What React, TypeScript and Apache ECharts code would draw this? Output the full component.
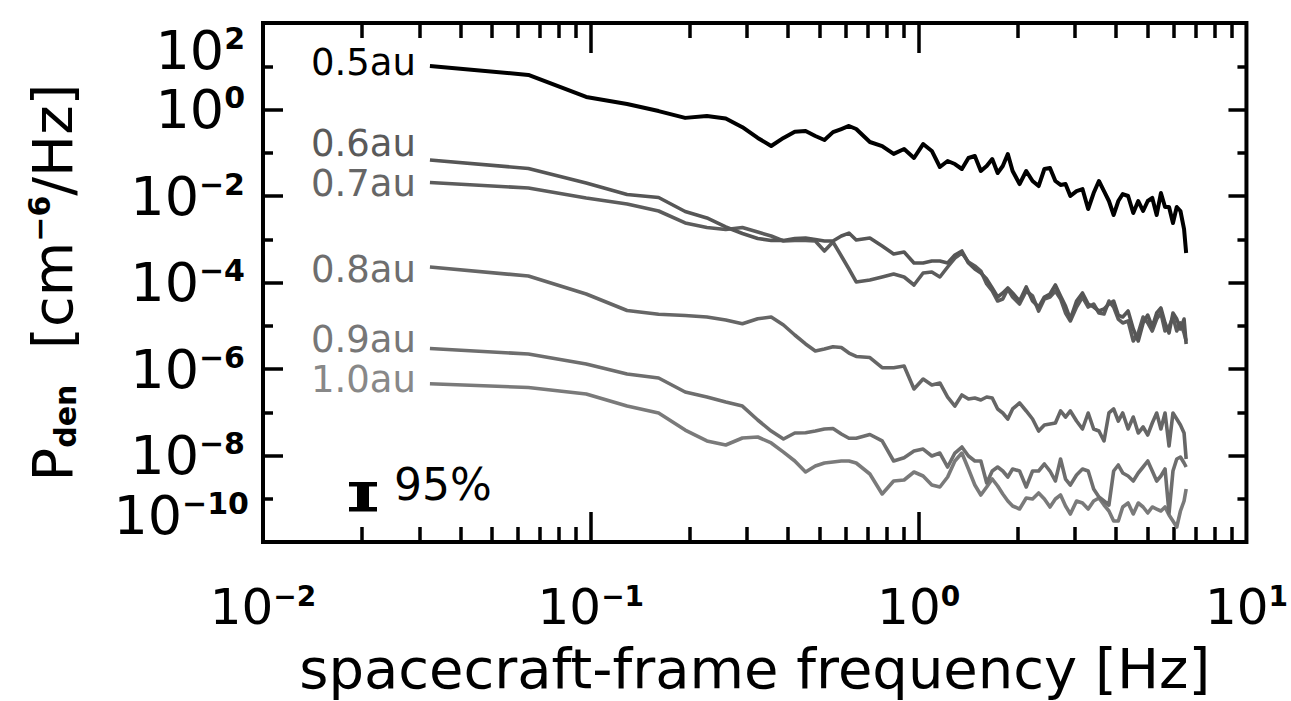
import React, { useEffect, useRef } from "react";
import * as echarts from "echarts";

// Frequencies (Hz) at which the spectra were read
const FREQ = [
  0.0323, 0.0645, 0.0968, 0.129, 0.161, 0.194, 0.226, 0.258, 0.290, 0.323,
  0.355, 0.387, 0.419, 0.452, 0.484, 0.516, 0.548, 0.581, 0.613, 0.645,
  0.710, 0.774, 0.839, 0.903, 0.968, 1.032, 1.097, 1.161, 1.226, 1.290,
  1.355, 1.419, 1.484, 1.548, 1.613, 1.677, 1.742, 1.806, 1.871, 1.935,
  2.032, 2.129, 2.226, 2.323, 2.419, 2.516, 2.613, 2.710, 2.806, 2.903,
  3.032, 3.161, 3.290, 3.419, 3.548, 3.677, 3.806, 3.935, 4.065, 4.194,
  4.355, 4.516, 4.677, 4.839, 5.000, 5.161, 5.323, 5.484, 5.645, 5.806,
  5.968, 6.129, 6.290, 6.452, 6.548,
];

// Density power spectra P_den [cm^-6/Hz]
const P_05AU = [
  10.1, 6.3, 1.95, 1.34, 0.92, 0.64, 0.71, 0.62, 0.39, 0.22,
  0.143, 0.22, 0.307, 0.318, 0.244, 0.197, 0.30, 0.354, 0.416, 0.354,
  0.177, 0.143, 0.094, 0.122, 0.0756, 0.159, 0.110, 0.0468, 0.0645, 0.0549,
  0.0421, 0.0756, 0.0841, 0.0379, 0.0494, 0.0717, 0.034, 0.0494, 0.0936, 0.0379,
  0.0189, 0.0379, 0.0222, 0.017, 0.0421, 0.0444, 0.0222, 0.018, 0.0189, 0.01,
  0.013, 0.0145, 0.005, 0.0117, 0.0222, 0.013, 0.00766, 0.00364, 0.00766, 0.0111,
  0.01, 0.00405, 0.00766, 0.0045, 0.00766, 0.009, 0.00364, 0.0117, 0.00557, 0.00557,
  0.00238, 0.00557, 0.0045, 0.00172, 0.00048,
];
const P_06AU = [
  0.068, 0.0433, 0.02, 0.0108, 0.00923, 0.00438, 0.0031, 0.00192, 0.00136, 0.00104,
  0.00094, 0.00094, 0.00104, 0.00107, 0.00099, 0.00091, 0.00091, 0.00119, 0.00139, 0.00096,
  0.00107, 0.000698, 0.000456, 0.000507, 0.000282, 0.000282, 0.000314, 0.000314, 0.000282, 0.000433,
  0.000535, 0.000282, 0.000205, 0.000166, 0.00012, 7.46e-5, 4.62e-5, 5.71e-5, 7.46e-5, 5.71e-5,
  3.73e-5, 7.87e-5, 3.73e-5, 2.71e-5, 4.62e-5, 5.42e-5, 8.75e-5, 4.87e-5, 2.86e-5, 1.43e-5,
  3.73e-5, 5.71e-5, 3.18e-5, 2.71e-5, 2.19e-5, 2.44e-5, 3.18e-5, 3.73e-5, 1.77e-5, 1.59e-5,
  2.19e-5, 8.41e-6, 4.44e-6, 1.16e-5, 1.77e-5, 9.36e-6, 1.97e-5, 2.57e-5, 1.16e-5, 6.8e-6,
  1.97e-5, 1.43e-5, 8.41e-6, 1.43e-5, 3.79e-6,
];
const P_07AU = [
  0.0205, 0.0153, 0.009, 0.00653, 0.0045, 0.00238, 0.00187, 0.00168, 0.00187, 0.00147,
  0.00119, 0.00091, 0.00094, 0.00094, 0.00091, 0.000535, 0.000864, 0.00041, 0.000205, 0.000103,
  0.000114, 0.000134, 0.000157, 0.000134, 8.75e-5, 0.000166, 0.000175, 0.000134, 0.000228, 0.000368,
  0.000481, 0.000298, 0.000241, 0.000184, 9.23e-5, 6.36e-5, 3.73e-5, 4.15e-5, 7.08e-5, 4.62e-5,
  3.18e-5, 6.36e-5, 4.87e-5, 2.19e-5, 4.15e-5, 4.62e-5, 6.36e-5, 4.15e-5, 1.97e-5, 1.29e-5,
  2.71e-5, 4.62e-5, 2.71e-5, 3.18e-5, 1.97e-5, 1.87e-5, 3.73e-5, 2.71e-5, 1.43e-5, 1.16e-5,
  1.29e-5, 4.44e-6, 6.8e-6, 1.59e-5, 1.16e-5, 7.56e-6, 1.43e-5, 1.97e-5, 7.56e-6, 9.36e-6,
  1.59e-5, 7.56e-6, 1.16e-5, 6.8e-6, 4.44e-6,
];
const P_08AU = [
  0.000228, 0.000141, 5.42e-5, 2.25e-5, 1.84e-5, 1.72e-5, 1.59e-5, 1.36e-5, 1.11e-5, 1.45e-5,
  1.59e-5, 1.04e-5, 6.11e-6, 3.79e-6, 2.61e-6, 2.9e-6, 3.28e-6, 3.13e-6, 2.34e-6, 1.95e-6,
  1.84e-6, 1.07e-6, 1.07e-6, 1.17e-6, 3.45e-7, 5.87e-7, 4.27e-7, 4.75e-7, 2.25e-7, 1.39e-7,
  2.51e-7, 2.03e-7, 2.14e-7, 1.92e-7, 2.25e-7, 2.14e-7, 1.19e-7, 9.61e-8, 6.98e-8, 1.19e-7,
  1.64e-7, 1.07e-7, 6.98e-8, 3.68e-8, 5.07e-8, 5.35e-8, 5.64e-8, 1.07e-7, 7.76e-8, 1.07e-7,
  6.27e-8, 4.1e-8, 9.61e-8, 4.1e-8, 3.68e-8, 2.17e-8, 9.61e-8, 1.19e-7, 6.27e-8, 9.61e-8,
  4.1e-8, 7.76e-8, 3.31e-8, 4.56e-8, 2.98e-8, 5.64e-8, 9.61e-8, 4.1e-8, 9.61e-8, 1.66e-8,
  9.61e-8, 6.98e-8, 5.07e-8, 3.31e-8, 8.3e-9,
];
const P_09AU = [
  2.98e-6, 2.22e-6, 1.3e-6, 7.66e-7, 6.2e-7, 2.94e-7, 2.25e-7, 1.72e-7, 1.39e-7, 6.62e-8,
  3.68e-8, 2.41e-8, 3.31e-8, 3.37e-8, 3.68e-8, 4.1e-8, 4.21e-8, 3.14e-8, 2.5e-8, 2.5e-8,
  3.06e-8, 2.17e-8, 7.46e-9, 8.9e-9, 1.27e-8, 1.41e-8, 9.73e-9, 1.14e-8, 5.42e-9, 1.14e-8,
  1.57e-8, 9.73e-9, 7.46e-9, 7.46e-9, 2.32e-9, 4.38e-9, 5.42e-9, 4.38e-9, 3.18e-9, 4.87e-9,
  4.38e-9, 1.87e-9, 4.38e-9, 4.38e-9, 6.36e-9, 4.38e-9, 2.57e-9, 8.3e-9, 2.86e-9, 2.08e-9,
  3.54e-9, 4.87e-9, 4.38e-9, 1.68e-9, 1.1e-9, 8.87e-10, 7.17e-10, 4.38e-9, 6.03e-9, 3.94e-9,
  3.36e-9, 2.57e-9, 3.94e-9, 5.42e-9, 7.46e-9, 4.38e-9, 2.57e-9, 3.36e-9, 4.87e-9, 4.68e-10,
  4.38e-9, 8.3e-9, 9.23e-9, 6.71e-9, 5.42e-9,
];
const P_10AU = [
  4.57e-7, 3.73e-7, 2.64e-7, 1.39e-7, 9.61e-8, 3.88e-8, 2.17e-8, 1.75e-8, 2.54e-8, 2.68e-8,
  1.95e-8, 1.2e-8, 7.46e-9, 4.15e-9, 5.71e-9, 6.71e-9, 7.08e-9, 7.46e-9, 7.46e-9, 6.71e-9,
  3.73e-9, 1.29e-9, 2.57e-9, 2.71e-9, 4.15e-9, 3.36e-9, 2.08e-9, 1.87e-9, 3.18e-9, 7.46e-9,
  1.14e-8, 4.87e-9, 2.08e-9, 1.22e-9, 1.87e-9, 2.86e-9, 1.97e-9, 1.29e-9, 8.87e-10, 6.8e-10,
  5.79e-10, 1.04e-9, 9.87e-10, 1.36e-9, 9.87e-10, 6.45e-10, 9.87e-10, 1.22e-9, 6.8e-10, 4.44e-10,
  8.87e-10, 7.97e-10, 5.79e-10, 8.87e-10, 1.04e-9, 7.17e-10, 5.21e-10, 3.06e-10, 3.06e-10, 6.45e-10,
  7.97e-10, 4.44e-10, 7.97e-10, 6.45e-10, 4.68e-10, 6.45e-10, 5.79e-10, 5.21e-10, 6.45e-10, 4.21e-10,
  3.06e-10, 2.22e-10, 5.21e-10, 8.87e-10, 1.68e-9,
];

const SERIES_NAMES = ["0.5au", "0.6au", "0.7au", "0.8au", "0.9au", "1.0au"];
const SERIES_VALUES = [P_05AU, P_06AU, P_07AU, P_08AU, P_09AU, P_10AU];

// Axis ticks / labels
const X_LABEL_VALUES = [0.01, 0.1, 1, 10];
const X_MAJOR_TICKS = [0.1, 1];
const X_MINOR_TICKS = [
  0.02, 0.03, 0.04, 0.05, 0.06, 0.07, 0.08, 0.09,
  0.2, 0.3, 0.4, 0.5, 0.6, 0.7, 0.8, 0.9,
  2, 3, 4, 5, 6, 7, 8, 9,
];
const Y_LABEL_VALUES = [1, 1e-2, 1e-4, 1e-6, 1e-8];
const Y_TOP_LABEL = [1e2];
const Y_BOTTOM_LABEL = [1e-10];
const Y_MAJOR_TICKS = [1, 1e-2, 1e-4, 1e-6, 1e-8];
const Y_MINOR_TICKS = [10, 0.1, 1e-3, 1e-5, 1e-7, 1e-9];

const X_TITLE = "spacecraft-frame frequency [Hz]";
const CONF_TEXT = "95%";

// styles
const FONT = "DejaVu Sans";
const LINE_COLORS = ["#000000", "#565656", "#5c5c5c", "#666666", "#6e6e6e", "#7a7a7a"];
const LINE_WIDTHS = [4, 3.6, 3.6, 3.6, 3.6, 3.6];
const LABEL_COLORS = ["#000000", "#5a5a5a", "#666666", "#6e6e6e", "#777777", "#888888"];
const LABEL_DY = [-4, -16, 1, 2, -9, -4];

const powLabel = (v: number) => {
  const e = Math.round(Math.log10(v));
  const s = e < 0 ? "\u2212" + String(-e) : String(e);
  return `{b|10}{s|${s}}`;
};

const tickRich = (size: number, sup: number) => ({
  b: { fontSize: size, fontFamily: FONT, color: "#000", lineHeight: size },
  s: {
    fontSize: sup,
    fontFamily: FONT,
    fontWeight: "bold",
    color: "#000",
    verticalAlign: "top",
    lineHeight: Math.round(sup * 0.7),
  },
});

const baseX = {
  type: "log",
  logBase: 10,
  min: 0.01,
  max: 10,
  gridIndex: 0,
  axisLine: { show: false, onZero: false },
  splitLine: { show: false },
  minorTick: { show: false },
};
const baseY = {
  type: "log",
  logBase: 10,
  min: 1e-10,
  max: 1e2,
  gridIndex: 0,
  axisLine: { show: false, onZero: false },
  splitLine: { show: false },
  minorTick: { show: false },
};
const tick = (values: number[], length: number) => ({
  show: true,
  inside: true,
  length,
  customValues: values,
  lineStyle: { color: "#000", width: 3.5 },
});
const noLabel = { show: false };

export default function App() {
  const ref = useRef<HTMLDivElement>(null);
  useEffect(() => {
    if (!ref.current) return;
    const chart = echarts.init(ref.current, null, { renderer: "svg" });

    const series = SERIES_VALUES.map((vals, si) => ({
      type: "line",
      name: SERIES_NAMES[si],
      xAxisIndex: 0,
      yAxisIndex: 0,
      data: FREQ.map((f, i) => [f, vals[i]]),
      showSymbol: false,
      symbol: "none",
      smooth: false,
      z: 10 - si,
      lineStyle: { color: LINE_COLORS[si], width: LINE_WIDTHS[si], join: "round" },
      itemStyle: { color: LINE_COLORS[si] },
      markPoint: {
        symbol: "circle",
        symbolSize: 0,
        silent: true,
        data: [
          {
            coord: [FREQ[0], vals[0]],
            label: {
              show: true,
              position: "left",
              distance: 14,
              offset: [0, LABEL_DY[si]],
              formatter: SERIES_NAMES[si],
              color: LABEL_COLORS[si],
              fontSize: 37,
              lineHeight: 32,
              fontFamily: FONT,
            },
          },
        ],
      },
    }));

    const option: any = {
      animation: false,
      backgroundColor: "#ffffff",
      grid: {
        left: 263,
        right: 44,
        top: 23,
        bottom: 159,
        show: true,
        borderColor: "#000",
        borderWidth: 4,
        backgroundColor: "transparent",
      },
      xAxis: [
        {
          ...baseX,
          position: "bottom",
          axisTick: tick(X_MAJOR_TICKS, 30),
          axisLabel: {
            show: true,
            customValues: X_LABEL_VALUES,
            formatter: powLabel,
            margin: 40,
            rich: tickRich(50, 28),
          },
          name: X_TITLE,
          nameLocation: "middle",
          nameGap: 98,
          nameTextStyle: { fontSize: 56, fontFamily: FONT, color: "#000" },
        },
        { ...baseX, position: "bottom", axisTick: tick(X_MINOR_TICKS, 15), axisLabel: noLabel },
        { ...baseX, position: "top", axisTick: tick(X_MAJOR_TICKS, 30), axisLabel: noLabel },
        { ...baseX, position: "top", axisTick: tick(X_MINOR_TICKS, 15), axisLabel: noLabel },
      ],
      yAxis: [
        {
          ...baseY,
          position: "left",
          axisTick: tick(Y_MAJOR_TICKS, 20),
          axisLabel: {
            show: true,
            customValues: Y_LABEL_VALUES,
            formatter: powLabel,
            margin: 18,
            rich: tickRich(54, 30),
          },
          name: "{a|P}{d|den}{a|  [cm}{u|\u22126}{a|/Hz]}",
          nameLocation: "middle",
          nameGap: 183,
          nameRotate: 90,
          nameTextStyle: {
            color: "#000",
            rich: {
              a: { fontSize: 56, fontFamily: FONT, color: "#000", lineHeight: 56 },
              d: { fontSize: 30, fontFamily: FONT, fontWeight: "bold", color: "#000", verticalAlign: "bottom", lineHeight: 24 },
              u: { fontSize: 30, fontFamily: FONT, fontWeight: "bold", color: "#000", verticalAlign: "top", lineHeight: 20 },
            },
          },
        },
        { ...baseY, position: "left", axisTick: tick(Y_MINOR_TICKS, 10), axisLabel: noLabel },
        {
          ...baseY,
          position: "left",
          axisTick: { show: false },
          axisLabel: {
            show: true,
            customValues: Y_TOP_LABEL,
            formatter: powLabel,
            margin: 18,
            verticalAlign: "top",
            rich: tickRich(54, 30),
          },
        },
        {
          ...baseY,
          position: "left",
          axisTick: { show: false },
          axisLabel: {
            show: true,
            customValues: Y_BOTTOM_LABEL,
            formatter: powLabel,
            margin: 14,
            verticalAlign: "bottom",
            rich: tickRich(54, 30),
          },
        },
        { ...baseY, position: "right", axisTick: tick(Y_MAJOR_TICKS, 18), axisLabel: noLabel },
        { ...baseY, position: "right", axisTick: tick(Y_MINOR_TICKS, 9), axisLabel: noLabel },
      ],
      series,
      graphic: [
        {
          type: "group",
          children: [
            { type: "rect", shape: { x: 349, y: 482, width: 28, height: 4.5 }, style: { fill: "#000" } },
            { type: "rect", shape: { x: 357, y: 485, width: 12, height: 23 }, style: { fill: "#000" } },
            { type: "rect", shape: { x: 349, y: 507, width: 28, height: 4.5 }, style: { fill: "#000" } },
            {
              type: "text",
              x: 394,
              y: 484,
              style: {
                text: CONF_TEXT,
                fontSize: 44,
                fontFamily: FONT,
                fill: "#000",
                verticalAlign: "middle",
                align: "left",
              },
            },
          ],
        },
      ],
    };

    chart.setOption(option);
    return () => chart.dispose();
  }, []);

  return (
    <div
      ref={ref}
      style={{ position: "fixed", left: 0, top: 0, width: 1291, height: 701, background: "#fff" }}
    />
  );
}
